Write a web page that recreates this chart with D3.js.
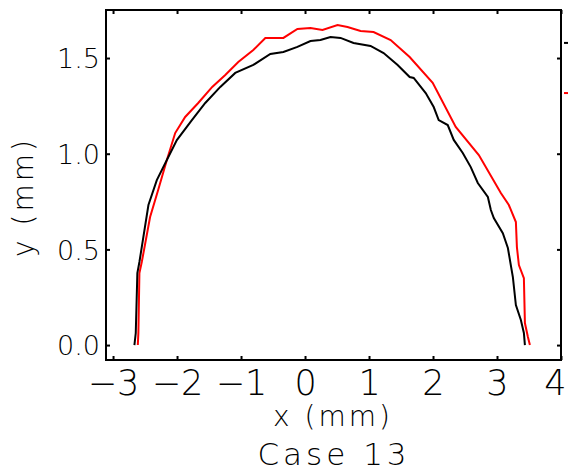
<!DOCTYPE html>
<html>
<head>
<meta charset="utf-8">
<script src="https://cdn.jsdelivr.net/npm/d3@7"></script>
<style>
  body { margin: 0; background: #fff; }
  svg { display: block; }
  text { font-family: "DejaVu Sans", sans-serif; font-weight: 200; fill: #000; }
</style>
</head>
<body>
<div id="chart"></div>
<script>
// black profile (x, y in mm)
const blackX = [-2.666, -2.645, -2.620, -2.588, -2.447, -2.316, -2.159, -2.003, -1.768, -1.559,
  -1.324, -1.090, -0.808, -0.542, -0.338, -0.119, 0.085, 0.241, 0.398, 0.555,
  0.758, 1.024, 1.228, 1.447, 1.635, 1.698, 1.886, 2.011, 2.089, 2.230,
  2.324, 2.465, 2.590, 2.700, 2.857, 2.904, 2.950, 3.091, 3.170, 3.248,
  3.295, 3.373, 3.420, 3.436];
const blackY = [0.000, 0.063, 0.376, 0.434, 0.732, 0.862, 0.967, 1.071, 1.176, 1.265,
  1.349, 1.422, 1.464, 1.521, 1.532, 1.558, 1.589, 1.594, 1.610, 1.605,
  1.579, 1.563, 1.526, 1.464, 1.401, 1.396, 1.317, 1.244, 1.176, 1.150,
  1.072, 1.004, 0.930, 0.847, 0.774, 0.706, 0.664, 0.585, 0.507, 0.355,
  0.209, 0.131, 0.063, 0.000];

// red profile
const redX = [-2.613, -2.604, -2.588, -2.551, -2.421, -2.295, -2.159, -2.029, -1.873, -1.669,
  -1.450, -1.246, -1.043, -0.808, -0.620, -0.338, -0.119, 0.085, 0.273, 0.508,
  0.664, 0.868, 1.071, 1.338, 1.635, 1.995, 2.355, 2.716, 3.060, 3.185,
  3.295, 3.311, 3.342, 3.420, 3.436, 3.483, 3.514];
const redY = [0.000, 0.063, 0.376, 0.434, 0.669, 0.810, 0.967, 1.108, 1.192, 1.265,
  1.349, 1.411, 1.479, 1.542, 1.605, 1.605, 1.652, 1.657, 1.647, 1.673,
  1.662, 1.641, 1.636, 1.594, 1.505, 1.370, 1.140, 0.993, 0.795, 0.732,
  0.643, 0.512, 0.418, 0.350, 0.115, 0.042, 0.000];

const xTicks = [-3, -2, -1, 0, 1, 2, 3, 4];
const yTicks = [0, 0.5, 1.0, 1.5];

// stray legend marks right of the frame
const markY = [1.579, 1.317];
const markColors = ["#000", "#ff0000"];

const width = 568, height = 473;
const m = { left: 106, right: 561, top: 10, bottom: 360 };

const svg = d3.select("#chart").append("svg")
  .attr("width", width)
  .attr("height", height);

const x = d3.scaleLinear().domain([-3.11, 4]).range([m.left, m.right]);
const y = d3.scaleLinear().domain([-0.078, 1.751]).range([m.bottom, m.top]);

const xFmt = d => (d < 0 ? "\u2212" : "") + Math.abs(d);

// bottom axis with labels
const gx = svg.append("g")
  .attr("transform", `translate(0,${m.bottom})`)
  .call(d3.axisBottom(x).tickValues(xTicks).tickFormat(xFmt).tickSizeInner(-4).tickSizeOuter(0).tickPadding(10));
gx.selectAll("text").attr("fill", "#000").style("font-size", "35px");
gx.selectAll(".tick:last-of-type text").attr("dx", "-6");

// left axis with labels
const gy = svg.append("g")
  .attr("transform", `translate(${m.left},0)`)
  .call(d3.axisLeft(y).tickValues(yTicks).tickFormat(d3.format(".1f")).tickSizeInner(-4).tickSizeOuter(0).tickPadding(6));
gy.selectAll("text").attr("fill", "#000").style("font-size", "27px").attr("dy", "0.36em");

// top and right ticks only
svg.append("g")
  .attr("transform", `translate(0,${m.top})`)
  .call(d3.axisTop(x).tickValues(xTicks).tickFormat("").tickSizeInner(-4).tickSizeOuter(0));
svg.append("g")
  .attr("transform", `translate(${m.right},0)`)
  .call(d3.axisRight(y).tickValues(yTicks).tickFormat("").tickSizeInner(-4).tickSizeOuter(0));

svg.selectAll(".domain").remove();
svg.selectAll(".tick line").attr("stroke", "#000").attr("stroke-width", 2);

// frame
svg.append("rect")
  .attr("x", m.left).attr("y", m.top)
  .attr("width", m.right - m.left).attr("height", m.bottom - m.top)
  .attr("fill", "none").attr("stroke", "#000").attr("stroke-width", 2);

// profiles
const line = d3.line().x(d => x(d[0])).y(d => y(d[1]));
svg.append("path")
  .datum(redX.map((v, i) => [v, redY[i]]))
  .attr("d", line).attr("fill", "none").attr("stroke", "#ff0000").attr("stroke-width", 2);
svg.append("path")
  .datum(blackX.map((v, i) => [v, blackY[i]]))
  .attr("d", line).attr("fill", "none").attr("stroke", "#000").attr("stroke-width", 2);

svg.selectAll(".mark")
  .data(markY)
  .join("line")
  .attr("class", "mark")
  .attr("x1", m.right + 3).attr("x2", m.right + 7)
  .attr("y1", d => y(d)).attr("y2", d => y(d))
  .attr("stroke", (d, i) => markColors[i]).attr("stroke-width", 2);

// axis titles
svg.append("text")
  .attr("x", 333).attr("y", 426)
  .attr("text-anchor", "middle")
  .style("font-size", "28px").style("letter-spacing", "3px")
  .text("x (mm)");

svg.append("text")
  .attr("transform", "translate(33,197) rotate(-90)")
  .attr("text-anchor", "middle")
  .style("font-size", "28px").style("letter-spacing", "3px")
  .text("y (mm)");

svg.append("text")
  .attr("x", 334).attr("y", 465)
  .attr("text-anchor", "middle")
  .style("font-size", "31px").style("letter-spacing", "4px")
  .text("Case 13");
</script>
</body>
</html>
